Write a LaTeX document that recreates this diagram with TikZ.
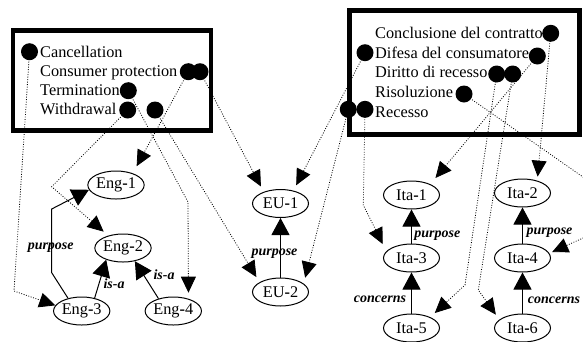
\documentclass[tikz,border=0pt]{standalone}
\usepackage{fontspec}
\setmainfont{Liberation Serif}
\usetikzlibrary{arrows.meta,shapes.geometric}

\begin{document}
\begin{tikzpicture}[x=1pt,y=-1pt,
  concept/.style={ellipse,draw,line width=1pt,minimum width=56pt,minimum height=28pt,
                  inner sep=0pt,font=\fontsize{16.3}{18}\selectfont},
  term/.style={anchor=base west,inner sep=0pt,font=\fontsize{16.3}{18}\selectfont},
  pin/.style={circle,fill=black,minimum size=17pt,inner sep=0pt},
  rel/.style={line width=1pt,-{Triangle[length=17pt,width=18pt]}},
  link/.style={line width=0.8pt,dash pattern=on 0.9pt off 1.6pt,
               -{Triangle[length=16pt,width=15pt]}},
  lbl/.style={inner sep=0pt,font=\fontsize{14}{16}\selectfont\bfseries\itshape},
  frame/.style={draw,line width=4.6pt}
]
\useasboundingbox (0,0) rectangle (583,341);
\clip (0,0) rectangle (583,341);

% term boxes
\draw[frame] (13,30.5) rectangle (211,130.5);
\draw[frame,line width=5pt] (349,10.8) rectangle (579,134.2);

\node[term] (tCanc) at (40,57.3) {Cancellation};
\node[term] (tCons) at (40,76.3) {Consumer protection};
\node[term] (tTerm) at (40,95.3) {Termination};
\node[term] (tWdr)  at (40,114.3) {Withdrawal};

\node[term] (tConc) at (375,38.3) {Conclusione del contratto};
\node[term] (tDif)  at (375,58) {Difesa del consumatore};
\node[term] (tDir)  at (375,77.7) {Diritto di recesso};
\node[term] (tRiso) at (375,97.4) {Risoluzione};
\node[term] (tRec)  at (375,117) {Recesso};

% anchor points of the term dots
\coordinate (dCanc)  at (29.5,51.7);
\coordinate (dCons1) at (188.3,71.7);
\coordinate (dCons2) at (200,71.7);
\coordinate (dTerm)  at (128.3,90.7);
\coordinate (dWdr)   at (127.7,110);
\coordinate (dExtra) at (155,110);
\coordinate (dConc)  at (550.7,33.3);
\coordinate (dDifL)  at (365,52.7);
\coordinate (dDifR)  at (537.3,56);
\coordinate (dDirL)  at (496.7,74);
\coordinate (dDirR)  at (512.7,74);
\coordinate (dRiso)  at (464,94);
\coordinate (dRecL)  at (348.3,109.3);
\coordinate (dRecR)  at (365,109.3);

% concepts
\node[concept] (eng1) at (116,185) {Eng\textbf{-}1};
\node[concept] (eng2) at (123,248) {Eng\textbf{-}2};
\node[concept] (eng3) at (81.7,311) {Eng\textbf{-}3};
\node[concept] (eng4) at (173.3,311) {Eng\textbf{-}4};
\node[concept] (eu1) at (280.5,203.5) {EU\textbf{-}1};
\node[concept] (eu2) at (280.5,292) {EU\textbf{-}2};
\node[concept] (ita1) at (411.5,195) {Ita\textbf{-}1};
\node[concept] (ita2) at (522.5,193) {Ita\textbf{-}2};
\node[concept] (ita3) at (411.5,258) {Ita\textbf{-}3};
\node[concept] (ita4) at (522.5,258) {Ita\textbf{-}4};
\node[concept] (ita5) at (411.5,328) {Ita\textbf{-}5};
\node[concept] (ita6) at (522.5,328) {Ita\textbf{-}6};

% relations between concepts
\draw[rel] (eng3.137) -- (51.7,272.7) -- (51.7,209) -- (eng1.190);
\draw[rel] (eng3.45) -- (eng2.215);
\draw[rel] (eng4.140) -- (eng2.312);
\draw[rel] (eu2.north) -- (eu1.south);
\draw[rel] (ita3.north) -- (ita1.south);
\draw[rel] (ita4.north) -- (ita2.south);
\draw[rel] (ita5.north) -- (ita3.south);
\draw[rel] (ita6.north) -- (ita4.south);

\node[lbl] (lEng)  at (50.7,247.3) {purpose};
\node[lbl] (lIsa1) at (114,284) {is-a};
\node[lbl] (lIsa2) at (164,275) {is-a};
\node[lbl] (lEU)   at (274.5,253.3) {purpose};
\node[lbl] (lIta1) at (437.3,236) {purpose};
\node[lbl] (lIta2) at (549.5,232.7) {purpose};
\node[lbl] (lIta3) at (380,299.3) {concerns};
\node[lbl] (lIta4) at (554,300.7) {concerns};

% links from terms to concepts
\draw[link] (dCanc) -- (14,291) -- (eng3.168);
\draw[link,shorten >=8pt] (dCons1) -- (eng1.35);
\draw[link,shorten >=6pt] (dCons2) -- (eu1.145);
\draw[link,shorten >=6pt] (dTerm) -- (188,202) -- (eng4.39);
\draw[link,shorten >=6pt] (dWdr) -- (51.7,186.7) -- (eng2.140);
\draw[link,shorten >=6pt] (dExtra) -- (eu2.155);
\draw[link,shorten >=6pt] (dDifL) -- (eu1.45);
\draw[link,shorten >=6pt] (dRecL) -- (eu2.20);
\draw[link,shorten >=8pt] (dRecR) -- (363.3,205) -- (ita3.165);
\draw[link,shorten >=8pt] (dDifR) -- (ita1.30);
\draw[link,shorten >=4pt] (dConc) -- (ita2.40);
\draw[link,shorten >=6pt] (dDirL) -- (465,285) -- (ita5.30);
\draw[link,shorten >=6pt] (dDirR) -- (478.3,290) -- (ita6.160);
\draw[link,shorten >=3pt] (dRiso) -- (636,214) -- (ita4.10);

% term dots
\foreach \d in {dCanc,dCons1,dCons2,dTerm,dWdr,dExtra,dConc,dDifL,dDifR,dDirL,dDirR,dRiso,dRecL,dRecR}
  \node[pin] (p\d) at (\d) {};
\end{tikzpicture}
\end{document}
